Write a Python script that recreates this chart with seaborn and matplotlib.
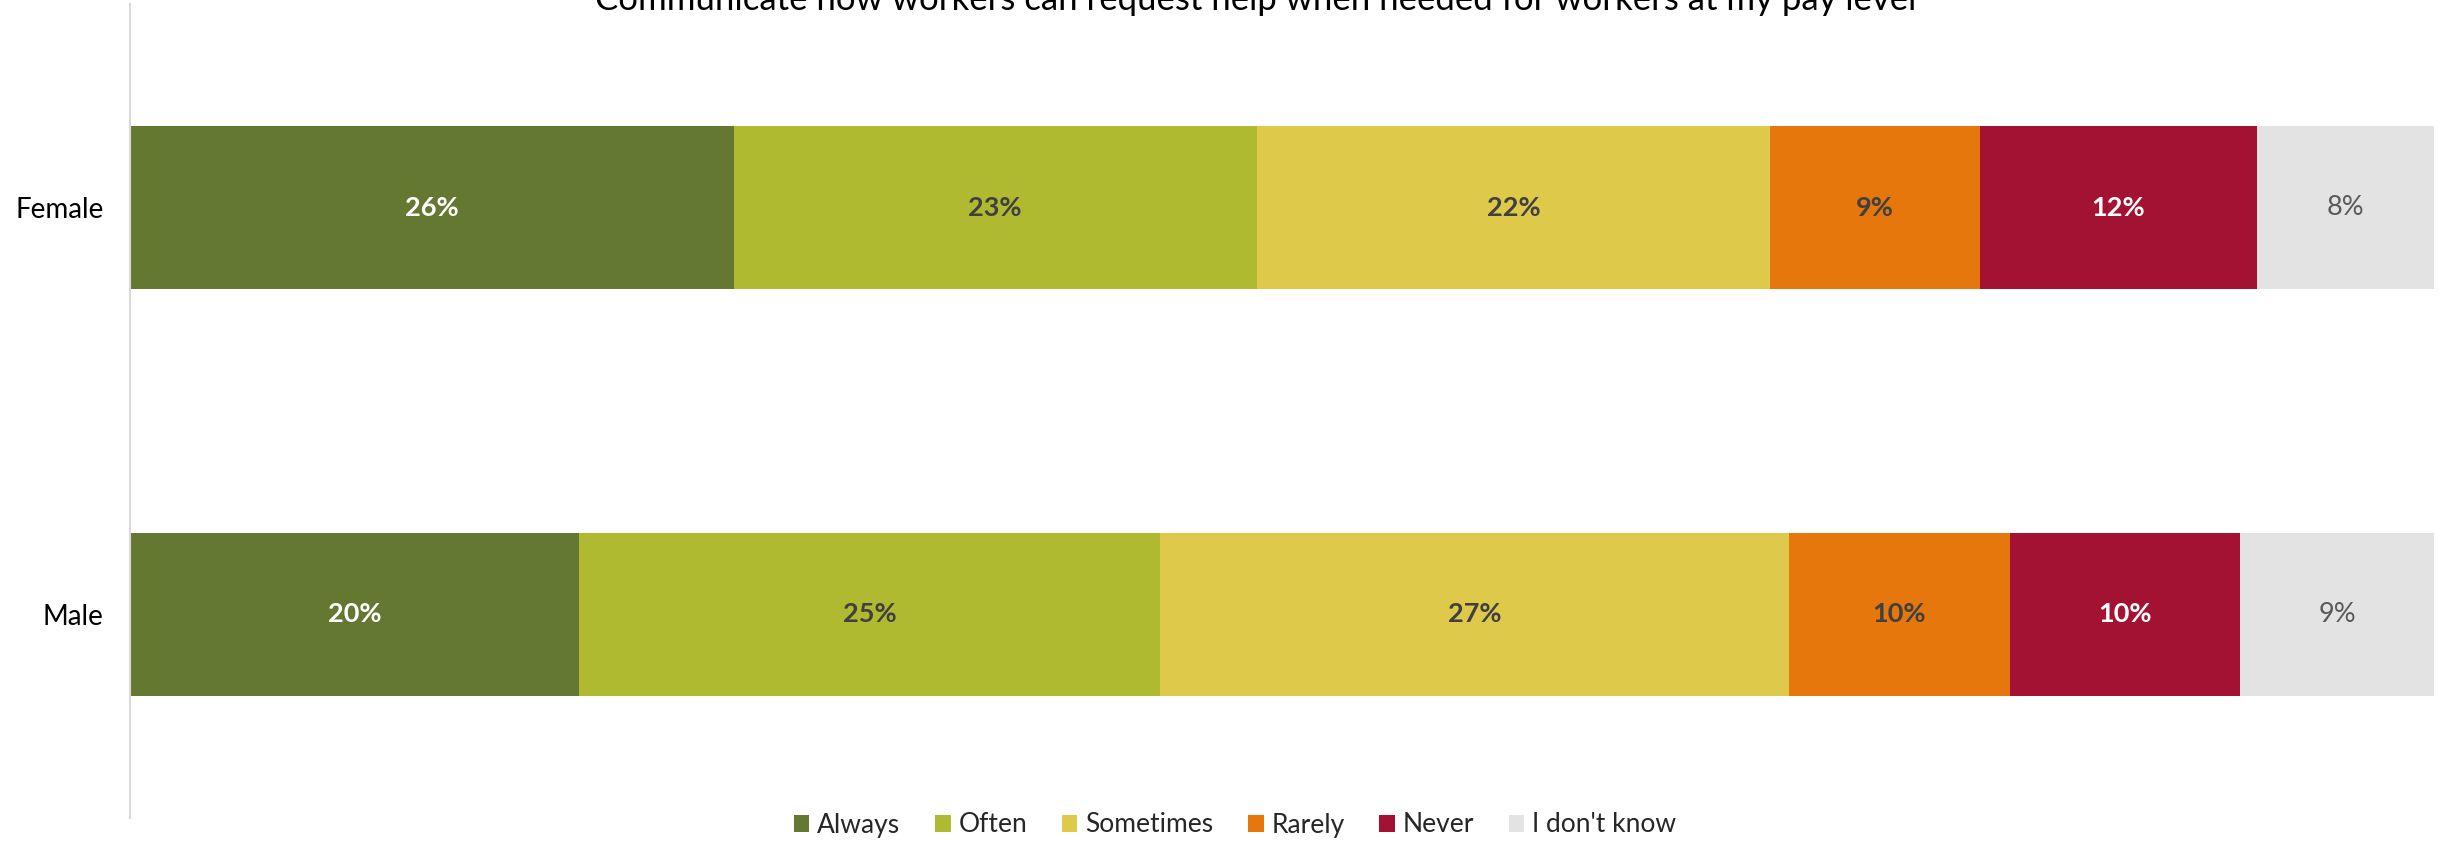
import numpy as np
import pandas as pd
import matplotlib
matplotlib.use("Agg")
import matplotlib.pyplot as plt
import seaborn as sns
from matplotlib.patches import Patch

# ---- data ----
categories = ["Female", "Male"]
responses = ["Always", "Often", "Sometimes", "Rarely", "Never", "I don't know"]
always = [26.2, 19.5]
often = [22.7, 25.2]
sometimes = [22.3, 27.3]
rarely = [9.1, 9.6]
never = [12.0, 10.0]
dont_know = [7.7, 8.4]
labels_female = ["26%", "23%", "22%", "9%", "12%", "8%"]
labels_male = ["20%", "25%", "27%", "10%", "10%", "9%"]
title = "Communicate how workers can request help when needed for workers at my pay level"

colors = ["#657831", "#B0BA31", "#DFC94B", "#E6770C", "#A31133", "#E3E3E3"]
label_colors = ["white", "#404040", "#404040", "#404040", "white", "#595959"]
label_weights = ["bold", "bold", "bold", "bold", "bold", "normal"]

sns.set_theme(style="white")
plt.rcParams["font.family"] = ["Lato", "DejaVu Sans"]

W, H = 2446, 843
fig = plt.figure(figsize=(W / 100, H / 100), dpi=100)
ax = fig.add_axes([130 / W, 1 - 818 / H, (2434 - 130) / W, (818 - 4) / H])

vals = np.array([always, often, sometimes, rarely, never, dont_know])  # (6, 2)
cum = np.cumsum(vals, axis=0)
for i in reversed(range(len(responses))):
    sns.barplot(x=cum[i], y=categories, color=colors[i], orient="h",
                width=0.4, ax=ax, saturation=1, linewidth=0)

# labels
all_labels = [labels_female, labels_male]
for ci in range(len(categories)):
    for ri in range(len(responses)):
        left = cum[ri, ci] - vals[ri, ci]
        ax.text(left + vals[ri, ci] / 2, ci, all_labels[ci][ri],
                ha="center", va="center", fontsize=19.5,
                color=label_colors[ri], fontweight=label_weights[ri])

ax.set_xlim(0, cum[-1].max())
ax.set_ylim(1.5, -0.5)
ax.set_xlabel("")
ax.set_ylabel("")
ax.set_xticks([])
ax.tick_params(axis="y", length=0, labelsize=20, colors="#000000", pad=19)
for s in ["top", "right", "bottom"]:
    ax.spines[s].set_visible(False)
ax.spines["left"].set_color("#D9D9D9")
ax.spines["left"].set_linewidth(1.5)

fig.text(0.5135, 1 - 10 / H, title, ha="center", va="baseline", fontsize=25, color="#000000")

handles = [Patch(facecolor=c, edgecolor="none", label=r) for c, r in zip(colors, responses)]
fig.legend(handles=handles, loc="center", bbox_to_anchor=(1235 / W, 1 - 825 / H), ncol=6,
           frameon=False, fontsize=19, handlelength=0.6, handleheight=0.6,
           handletextpad=0.3, columnspacing=1.3)

fig.savefig("out.png", dpi=100)
